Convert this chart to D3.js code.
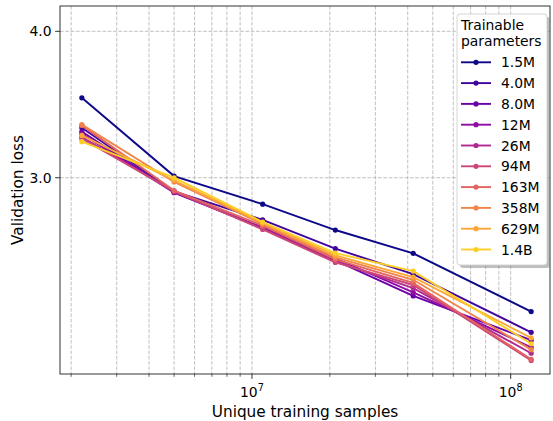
<!DOCTYPE html>
<html>
<head>
<meta charset="utf-8">
<script src="https://cdn.jsdelivr.net/npm/d3@7"></script>
<style>
  body { margin: 0; background: #fff; }
  text { font-family: "DejaVu Sans", sans-serif; fill: #000; }
</style>
</head>
<body>
<div id="wrapper"></div>
<script>
// Data
const samples = [2.2e6, 5.0e6, 1.1e7, 2.1e7, 4.2e7, 1.2e8]
const paramLabels = ["1.5M", "4.0M", "8.0M", "12M", "26M", "94M", "163M", "358M", "629M", "1.4B"]
const loss_1_5M = [3.51, 3.01, 2.848, 2.707, 2.586, 2.306]
const loss_4_0M = [3.31, 2.92, 2.762, 2.61, 2.482, 2.214]
const loss_8_0M = [3.285, 2.915, 2.72, 2.55, 2.378, 2.18]
const loss_12M = [3.27, 2.913, 2.718, 2.56, 2.395, 2.15]
const loss_26M = [3.25, 2.918, 2.715, 2.545, 2.415, 2.125]
const loss_94M = [3.24, 2.922, 2.71, 2.54, 2.43, 2.095]
const loss_163M = [3.325, 2.925, 2.73, 2.555, 2.44, 2.10]
const loss_358M = [3.33, 2.975, 2.738, 2.565, 2.455, 2.14]
const loss_629M = [3.26, 2.985, 2.745, 2.575, 2.468, 2.19]
const loss_1_4B = [3.22, 3.0, 2.75, 2.587, 2.497, 2.165]
const yTickValues = [3.0, 4.0]
const xMajorTicks = [1e7, 1e8]

const allLoss = [loss_1_5M, loss_4_0M, loss_8_0M, loss_12M, loss_26M,
                 loss_94M, loss_163M, loss_358M, loss_629M, loss_1_4B]
const series = paramLabels.map((name, i) => ({
  name,
  color: d3.interpolatePlasma(i / 10),
  points: samples.map((s, j) => ({ x: s, y: allLoss[i][j] }))
}))

const dimensions = { width: 553, height: 421,
  margin: { top: 6, right: 3, bottom: 47, left: 60 } }
const plotLeft = dimensions.margin.left
const plotRight = dimensions.width - dimensions.margin.right
const plotTop = dimensions.margin.top
const plotBottom = dimensions.height - dimensions.margin.bottom

const xScale = d3.scaleLog()
  .domain([Math.pow(10, 6.258), Math.pow(10, 8.152)])
  .range([plotLeft, plotRight])
const yScale = d3.scaleLog()
  .domain([2.04, 4.204])
  .range([plotBottom, plotTop])

const svg = d3.select("#wrapper").append("svg")
  .attr("width", dimensions.width)
  .attr("height", dimensions.height)

// minor ticks 2..9 per decade
const xMinorTicks = []
for (let e = 6; e <= 8; e++) {
  for (let m = 2; m <= 9; m++) {
    const v = m * Math.pow(10, e)
    if (v >= xScale.domain()[0] && v <= xScale.domain()[1]) xMinorTicks.push(v)
  }
}

// grid
const grid = svg.append("g")
  .attr("stroke", "#b0b0b0")
  .attr("stroke-width", 0.8)
  .attr("stroke-dasharray", "3.7,1.6")
grid.selectAll(".gx").data(xMinorTicks.concat(xMajorTicks))
  .join("line")
  .attr("x1", d => xScale(d)).attr("x2", d => xScale(d))
  .attr("y1", plotTop).attr("y2", plotBottom)
grid.selectAll(".gy").data(yTickValues)
  .join("line")
  .attr("x1", plotLeft).attr("x2", plotRight)
  .attr("y1", d => yScale(d)).attr("y2", d => yScale(d))

// lines and markers
const line = d3.line().x(d => xScale(d.x)).y(d => yScale(d.y))
const gSeries = svg.append("g")
series.forEach(s => {
  const g = gSeries.append("g")
  g.append("path")
    .attr("d", line(s.points))
    .attr("fill", "none")
    .attr("stroke", s.color)
    .attr("stroke-width", 1.9)
  g.selectAll("circle").data(s.points)
    .join("circle")
    .attr("cx", d => xScale(d.x))
    .attr("cy", d => yScale(d.y))
    .attr("r", 2.6)
    .attr("fill", s.color)
})

// spines
svg.append("rect")
  .attr("x", plotLeft).attr("y", plotTop)
  .attr("width", plotRight - plotLeft).attr("height", plotBottom - plotTop)
  .attr("fill", "none").attr("stroke", "#000").attr("stroke-width", 0.8)

// x ticks
const xAxis = svg.append("g")
xAxis.selectAll(".mt").data(xMinorTicks)
  .join("line")
  .attr("x1", d => xScale(d)).attr("x2", d => xScale(d))
  .attr("y1", plotBottom).attr("y2", plotBottom + 2.8)
  .attr("stroke", "#000").attr("stroke-width", 0.6)
xAxis.selectAll(".Mt").data(xMajorTicks)
  .join("line")
  .attr("x1", d => xScale(d)).attr("x2", d => xScale(d))
  .attr("y1", plotBottom).attr("y2", plotBottom + 4.9)
  .attr("stroke", "#000").attr("stroke-width", 0.8)
const xLab = xAxis.selectAll(".xl").data(xMajorTicks)
  .join("text")
  .attr("x", d => xScale(d))
  .attr("y", plotBottom + 22.5)
  .attr("text-anchor", "middle")
  .style("font-size", "13.9px")
xLab.append("tspan").text("10")
xLab.append("tspan")
  .attr("dy", -6)
  .style("font-size", "9.7px")
  .text(d => Math.round(Math.log10(d)))

// y ticks
const yAxis = svg.append("g")
yAxis.selectAll("line").data(yTickValues)
  .join("line")
  .attr("x1", plotLeft - 4.9).attr("x2", plotLeft)
  .attr("y1", d => yScale(d)).attr("y2", d => yScale(d))
  .attr("stroke", "#000").attr("stroke-width", 0.8)
yAxis.selectAll("text").data(yTickValues)
  .join("text")
  .attr("x", plotLeft - 8.5)
  .attr("y", d => yScale(d))
  .attr("dy", "0.36em")
  .attr("text-anchor", "end")
  .style("font-size", "13.9px")
  .text(d => d.toFixed(1))

// axis labels
svg.append("text")
  .attr("x", (plotLeft + plotRight) / 2)
  .attr("y", 417)
  .attr("text-anchor", "middle")
  .style("font-size", "15.3px")
  .text("Unique training samples")
svg.append("text")
  .attr("transform", `translate(22.5, ${(plotTop + plotBottom) / 2}) rotate(-90)`)
  .attr("text-anchor", "middle")
  .style("font-size", "15.3px")
  .text("Validation loss")

// legend
const legend = svg.append("g")
const lx = 457, ly = 14, lw = 90, lh = 251
legend.append("rect")
  .attr("x", lx + 3).attr("y", ly + 3)
  .attr("width", lw).attr("height", lh)
  .attr("rx", 3)
  .attr("fill", "#808080").attr("opacity", 0.5)
legend.append("rect")
  .attr("x", lx).attr("y", ly)
  .attr("width", lw).attr("height", lh)
  .attr("rx", 3)
  .attr("fill", "#fff")
  .attr("stroke", "#cccccc").attr("stroke-width", 0.8)
legend.append("text")
  .attr("x", lx + 4).attr("y", ly + 16)
  .style("font-size", "13.9px")
  .text("Trainable")
legend.append("text")
  .attr("x", lx + 4).attr("y", ly + 32)
  .style("font-size", "13.9px")
  .text("parameters")
const items = legend.selectAll(".item").data(series)
  .join("g")
  .attr("transform", (d, i) => `translate(0, ${62.3 + i * 20.8})`)
items.append("line")
  .attr("x1", 461).attr("x2", 491)
  .attr("stroke", d => d.color)
  .attr("stroke-width", 1.9)
items.append("circle")
  .attr("cx", 476).attr("r", 2.6)
  .attr("fill", d => d.color)
items.append("text")
  .attr("x", 501)
  .attr("dy", "0.36em")
  .style("font-size", "13.9px")
  .text(d => d.name)
</script>
</body>
</html>
